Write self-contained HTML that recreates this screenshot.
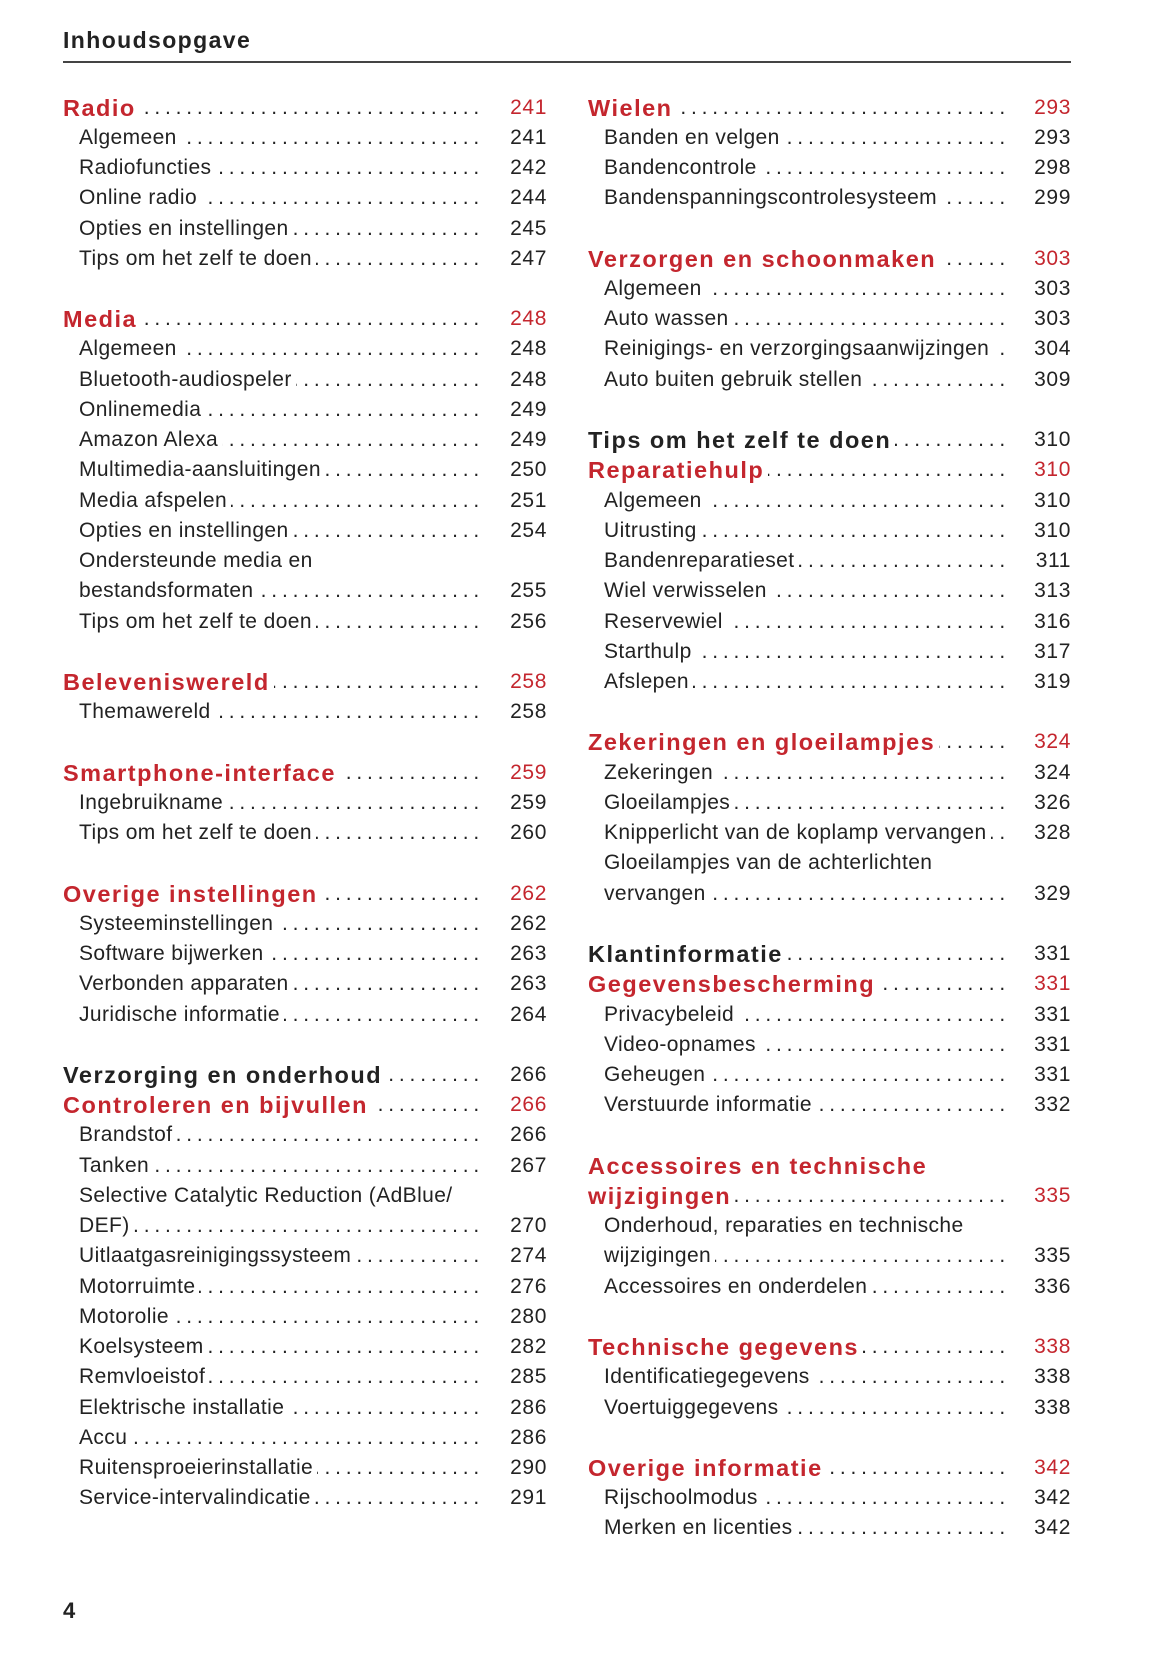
<!DOCTYPE html>
<html><head><meta charset="utf-8"><style>
*{box-sizing:border-box}
body{margin:0;width:1165px;height:1653px;background:#fff;position:relative;overflow:hidden;font-family:"Liberation Sans",sans-serif;color:#222}
.h{position:absolute;left:63px;top:27px;font-weight:bold;font-size:23px;letter-spacing:1.4px;color:#222}
.rule{position:absolute;left:63px;top:61px;width:1008px;height:1.5px;background:#444}
.pg{position:absolute;left:63px;top:1598px;font-weight:bold;font-size:22px}
.r{position:absolute;height:30px;line-height:30px;display:flex;font-size:21px;letter-spacing:0.4px;white-space:nowrap}
.L{left:63px;width:484px}.R{left:588px;width:483px}
.s{padding-left:16px}
.r .t{flex:none}
.r .d{flex:1;overflow:hidden;direction:rtl;text-align:left;letter-spacing:4.8px;margin-left:4px}
.L .n{width:63px;text-align:right;flex:none;letter-spacing:0.6px}
.R .n{width:61px;text-align:right;flex:none;letter-spacing:0.6px}
.b .t{font-weight:bold;font-size:23.5px;letter-spacing:1.5px}
.red .t,.red .n{color:#c4262e}
</style></head><body>
<div class="h">Inhoudsopgave</div>
<div class="rule"></div>
<div class="pg">4</div>
<div id="c"></div>
<script>
var D='..........................................................................';
var L=[[0,'Radio','241','red'],[1,'Algemeen','241'],[2,'Radiofuncties','242'],[3,'Online radio','244'],[4,'Opties en instellingen','245'],[5,'Tips om het zelf te doen','247'],
[7,'Media','248','red'],[8,'Algemeen','248'],[9,'Bluetooth-audiospeler','248'],[10,'Onlinemedia','249'],[11,'Amazon Alexa','249'],[12,'Multimedia-aansluitingen','250'],[13,'Media afspelen','251'],[14,'Opties en instellingen','254'],[15,'Ondersteunde media en',null],[16,'bestandsformaten','255'],[17,'Tips om het zelf te doen','256'],
[19,'Belevenis­wereld','258','red'],[20,'Themawereld','258'],
[22,'Smartphone-interface','259','red'],[23,'Ingebruikname','259'],[24,'Tips om het zelf te doen','260'],
[26,'Overige instellingen','262','red'],[27,'Systeeminstellingen','262'],[28,'Software bijwerken','263'],[29,'Verbonden apparaten','263'],[30,'Juridische informatie','264'],
[32,'Verzorging en onderhoud','266','blk'],[33,'Controleren en bijvullen','266','red'],[34,'Brandstof','266'],[35,'Tanken','267'],[36,'Selective Catalytic Reduction (AdBlue/',null],[37,'DEF)','270'],[38,'Uitlaatgasreinigingssysteem','274'],[39,'Motorruimte','276'],[40,'Motorolie','280'],[41,'Koelsysteem','282'],[42,'Remvloeistof','285'],[43,'Elektrische installatie','286'],[44,'Accu','286'],[45,'Ruitensproeierinstallatie','290'],[46,'Service-intervalindicatie','291']];
var R=[[0,'Wielen','293','red'],[1,'Banden en velgen','293'],[2,'Bandencontrole','298'],[3,'Bandenspanningscontrolesysteem','299'],
[5,'Verzorgen en schoonmaken','303','red'],[6,'Algemeen','303'],[7,'Auto wassen','303'],[8,'Reinigings- en verzorgingsaanwijzingen','304'],[9,'Auto buiten gebruik stellen','309'],
[11,'Tips om het zelf te doen','310','blk'],[12,'Reparatiehulp','310','red'],[13,'Algemeen','310'],[14,'Uitrusting','310'],[15,'Bandenreparatieset','311'],[16,'Wiel verwisselen','313'],[17,'Reservewiel','316'],[18,'Starthulp','317'],[19,'Afslepen','319'],
[21,'Zekeringen en gloeilampjes','324','red'],[22,'Zekeringen','324'],[23,'Gloeilampjes','326'],[24,'Knipperlicht van de koplamp vervangen','328'],[25,'Gloeilampjes van de achterlichten',null],[26,'vervangen','329'],
[28,'Klantinformatie','331','blk'],[29,'Gegevensbescherming','331','red'],[30,'Privacybeleid','331'],[31,'Video-opnames','331'],[32,'Geheugen','331'],[33,'Verstuurde informatie','332'],
[35,'Accessoires en technische',null,'redn'],[36,'wijzigingen','335','red'],[37,'Onderhoud, reparaties en technische',null],[38,'wijzigingen','335'],[39,'Accessoires en onderdelen','336'],
[41,'Technische gegevens','338','red'],[42,'Identificatiegegevens','338'],[43,'Voertuiggegevens','338'],
[45,'Overige informatie','342','red'],[46,'Rijschoolmodus','342'],[47,'Merken en licenties','342']];
var h='';
function add(a,side){a.forEach(function(e){var cls='r '+side;var k=e[3];
if(k==='red'||k==='redn')cls+=' b red';else if(k==='blk')cls+=' b';else cls+=' s';
var top=(107.6+e[0]*30.23-15).toFixed(1);
h+='<div class="'+cls+'" style="top:'+top+'px"><span class="t">'+e[1]+'</span>';
if(e[2])h+='<span class="d">'+D+'</span><span class="n">'+e[2]+'</span>';
h+='</div>';});}
add(L,'L');add(R,'R');
document.getElementById('c').innerHTML=h;
</script>
</body></html>
